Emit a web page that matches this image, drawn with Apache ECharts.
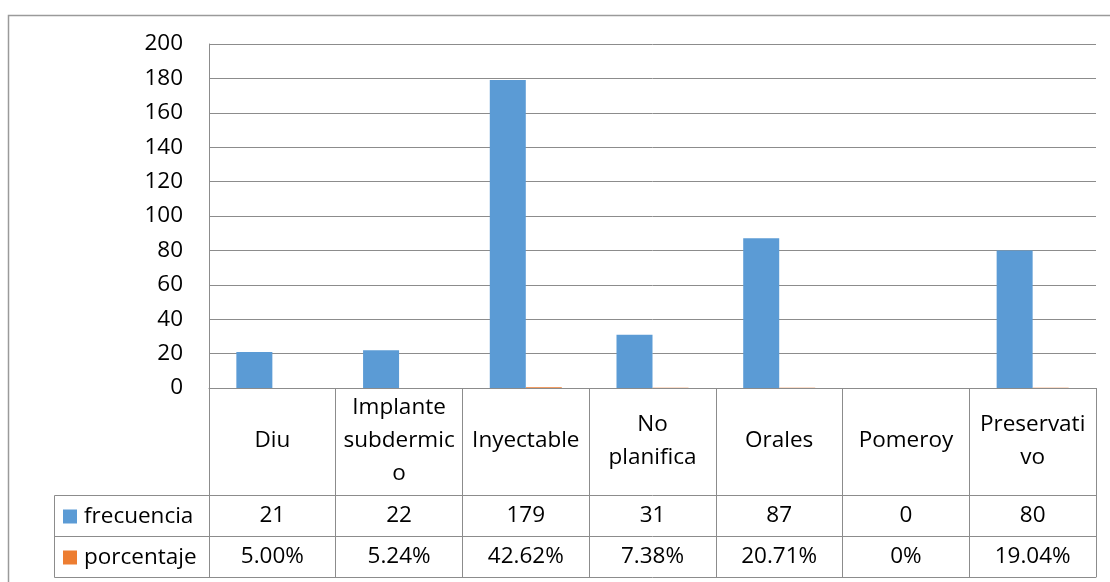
<!DOCTYPE html>
<html>
<head>
<meta charset="utf-8">
<script src="https://cdn.jsdelivr.net/npm/echarts@6/dist/echarts.min.js"></script>
<style>
html,body{margin:0;padding:0;background:#fff;}
#c{width:1110px;height:582px;}
</style>
</head>
<body>
<div id="c"></div>
<script>
// Data
const categories = ['Diu', 'Implante subdermico', 'Inyectable', 'No planifica', 'Orales', 'Pomeroy', 'Preservativo'];
const categoryLabels = ['Diu', 'Implante\nsubdermic\no', 'Inyectable', 'No\nplanifica', 'Orales', 'Pomeroy', 'Preservati\nvo'];
const frecuencia = [21, 22, 179, 31, 87, 0, 80];
const porcentaje = [0.05, 0.0524, 0.4262, 0.0738, 0.2071, 0, 0.1904];
const yTicks = { min: 0, max: 200, interval: 20 };

function fmtPct(v) { return v === 0 ? '0%' : (v * 100).toFixed(2) + '%'; }

const FONT = 'Open Sans';
const FS = 22.5;
const LINE = '#8c8c8c';
const TXT = '#000';

const chart = echarts.init(document.getElementById('c'), null, { renderer: 'canvas' });

const baseX = {
  type: 'category',
  data: categories,
  position: 'bottom',
  boundaryGap: true,
  axisLine: { show: true, lineStyle: { color: LINE, width: 1 } },
  axisTick: { show: false },
  splitLine: { show: false },
  z: 3
};

const option = {
  backgroundColor: '#fff',
  animation: false,
  grid: { left: 209, right: 14, top: 44, bottom: 194, containLabel: false },
  legend: [
    { data: ['frecuencia'], left: 63, top: 505, orient: 'vertical', icon: 'rect', itemWidth: 14, itemHeight: 14, itemGap: 0, padding: 0,
      textStyle: { fontFamily: FONT, fontSize: FS, color: TXT, padding: [0, 0, 0, 2] } },
    { data: ['porcentaje'], left: 63, top: 546, orient: 'vertical', icon: 'rect', itemWidth: 14, itemHeight: 14, itemGap: 0, padding: 0,
      textStyle: { fontFamily: FONT, fontSize: FS, color: TXT, padding: [0, 0, 0, 2] } }
  ],
  xAxis: [
    Object.assign({}, baseX, {
      axisTick: { show: true, length: 189, lineStyle: { color: LINE } },
      axisLabel: { interval: 0, margin: 53, verticalAlign: 'middle', fontFamily: FONT, fontSize: FS, lineHeight: 33, color: TXT,
        formatter: (v, i) => categoryLabels[i] }
    }),
    Object.assign({}, baseX, {
      offset: 107,
      axisLabel: { interval: 0, margin: 21, verticalAlign: 'middle', fontFamily: FONT, fontSize: FS, color: TXT,
        formatter: (v, i) => String(frecuencia[i]) }
    }),
    Object.assign({}, baseX, {
      offset: 148,
      axisLabel: { interval: 0, margin: 21, verticalAlign: 'middle', fontFamily: FONT, fontSize: FS, color: TXT,
        formatter: (v, i) => fmtPct(porcentaje[i]) }
    }),
    Object.assign({}, baseX, {
      offset: 189,
      axisLabel: { show: false }
    })
  ],
  yAxis: {
    type: 'value',
    min: yTicks.min, max: yTicks.max, interval: yTicks.interval,
    axisLine: { show: true, lineStyle: { color: LINE } },
    axisTick: { show: false },
    splitLine: { show: true, lineStyle: { color: LINE, width: 1 } },
    axisLabel: { margin: 26, fontFamily: FONT, fontSize: FS, color: TXT }
  },
  series: [
    { name: 'frecuencia', type: 'bar', xAxisIndex: 0, data: frecuencia, barWidth: 36, barGap: '0%',
      itemStyle: { color: '#5B9BD5' } },
    { name: 'porcentaje', type: 'bar', xAxisIndex: 0, data: porcentaje, barWidth: 36, barGap: '0%', z: 1,
      itemStyle: { color: '#ED7D31' } }
  ],
  graphic: [
    { type: 'rect', shape: { x: 8.5, y: 15.5, width: 1300, height: 800 }, style: { fill: 'none', stroke: '#9a9a9a', lineWidth: 1.5 }, silent: true },
    { type: 'line', shape: { x1: 54.5, y1: 495.5, x2: 209, y2: 495.5 }, style: { stroke: LINE, lineWidth: 1 }, silent: true },
    { type: 'line', shape: { x1: 54.5, y1: 536.5, x2: 209, y2: 536.5 }, style: { stroke: LINE, lineWidth: 1 }, silent: true },
    { type: 'line', shape: { x1: 54.5, y1: 577.5, x2: 209, y2: 577.5 }, style: { stroke: LINE, lineWidth: 1 }, silent: true },
    { type: 'line', shape: { x1: 54.5, y1: 495.5, x2: 54.5, y2: 577.5 }, style: { stroke: LINE, lineWidth: 1 }, silent: true }
  ]
};

chart.setOption(option);
</script>
</body>
</html>
